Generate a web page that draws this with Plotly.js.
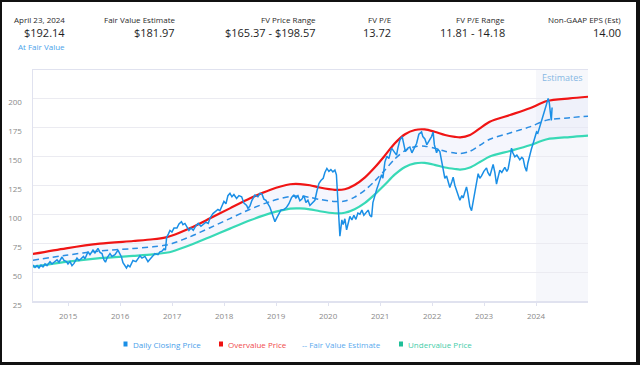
<!DOCTYPE html>
<html><head><meta charset="utf-8">
<script src="https://cdn.plot.ly/plotly-3.0.1.min.js"></script>
<style>
html,body{margin:0;padding:0;background:#fff;}
#wrap{position:relative;width:640px;height:365px;overflow:hidden;}
#chart{width:640px;height:365px;}
#frame{position:absolute;left:0;top:0;width:640px;height:365px;box-sizing:border-box;border-style:solid;border-color:#111;border-width:2px 4px 3px 2px;pointer-events:none;}
</style></head><body>
<div id="wrap"><div id="chart"></div><div id="frame"></div></div>
<script>
// ---------- DATA ----------
const bandYears = [2014.32, 2014.96, 2015.61, 2016.25, 2016.63, 2016.88, 2017.0, 2017.35, 2017.73, 2018.11, 2018.5, 2018.88, 2019.27, 2019.46, 2019.65, 2019.84, 2020.13, 2020.32, 2020.51, 2020.71, 2020.9, 2021.09, 2021.28, 2021.48, 2021.67, 2021.86, 2022.05, 2022.25, 2022.44, 2022.54, 2022.73, 2022.92, 2023.11, 2023.5, 2023.88, 2024.21, 2024.65, 2025.0];
const overvaluePrice = [65.6, 70.5, 74.5, 76.8, 78.3, 80.0, 81.5, 88.0, 96.4, 105.0, 113.7, 120.9, 125.8, 126.0, 125.0, 123.0, 121.0, 121.5, 125.2, 131.8, 140.5, 150.5, 161.0, 169.0, 172.7, 173.2, 171.2, 168.4, 166.8, 166.3, 168.4, 174.1, 179.8, 185.6, 191.4, 197.7, 200.0, 201.4];
const fairValueEstimate = [60.2, 64.5, 68.2, 70.3, 71.8, 73.3, 74.6, 80.6, 88.3, 96.2, 104.2, 110.8, 115.3, 115.5, 114.5, 112.7, 110.9, 111.3, 114.7, 120.8, 128.7, 137.9, 147.5, 154.9, 158.3, 158.7, 156.9, 154.3, 152.8, 152.4, 154.3, 159.5, 164.7, 170.1, 175.4, 181.2, 183.3, 184.6];
const undervaluePrice = [54.6, 58.8, 62.0, 64.0, 65.3, 66.7, 67.8, 73.3, 80.3, 87.5, 94.7, 100.7, 104.8, 105.0, 104.2, 102.5, 100.8, 101.2, 104.3, 109.8, 117.1, 125.4, 134.1, 140.8, 143.9, 144.3, 142.6, 140.3, 139.0, 138.5, 140.3, 145.0, 149.8, 154.6, 159.5, 164.7, 166.6, 167.8];

const priceYears = [2014.323,2014.362,2014.400,2014.438,2014.477,2014.515,2014.554,2014.592,2014.650,2014.688,2014.727,2014.785,2014.823,2014.881,2014.919,2014.967,2014.996,2015.035,2015.073,2015.112,2015.169,2015.208,2015.246,2015.294,2015.323,2015.381,2015.419,2015.477,2015.515,2015.573,2015.612,2015.650,2015.688,2015.717,2015.746,2015.804,2015.842,2015.900,2015.958,2015.996,2016.025,2016.054,2016.092,2016.121,2016.150,2016.188,2016.246,2016.304,2016.381,2016.419,2016.477,2016.535,2016.573,2016.631,2016.669,2016.727,2016.765,2016.804,2016.842,2016.871,2016.894,2016.929,2016.958,2016.996,2017.035,2017.092,2017.131,2017.179,2017.208,2017.246,2017.279,2017.323,2017.362,2017.406,2017.458,2017.502,2017.554,2017.598,2017.650,2017.694,2017.727,2017.785,2017.823,2017.881,2017.919,2017.958,2017.996,2018.035,2018.073,2018.112,2018.150,2018.188,2018.240,2018.285,2018.337,2018.381,2018.433,2018.458,2018.496,2018.535,2018.592,2018.650,2018.688,2018.727,2018.765,2018.804,2018.842,2018.881,2018.919,2018.948,2018.977,2019.015,2019.054,2019.092,2019.150,2019.202,2019.246,2019.298,2019.342,2019.381,2019.419,2019.458,2019.496,2019.535,2019.573,2019.612,2019.650,2019.688,2019.746,2019.785,2019.823,2019.862,2019.906,2019.938,2019.977,2020.015,2020.054,2020.092,2020.131,2020.160,2020.179,2020.198,2020.217,2020.227,2020.246,2020.265,2020.290,2020.323,2020.356,2020.381,2020.419,2020.458,2020.496,2020.535,2020.573,2020.612,2020.650,2020.688,2020.727,2020.771,2020.804,2020.837,2020.862,2020.900,2020.933,2020.977,2021.029,2021.054,2021.092,2021.131,2021.169,2021.221,2021.265,2021.317,2021.342,2021.381,2021.425,2021.458,2021.487,2021.535,2021.573,2021.612,2021.650,2021.702,2021.746,2021.798,2021.823,2021.862,2021.900,2021.938,2021.990,2022.021,2022.044,2022.087,2022.112,2022.150,2022.188,2022.213,2022.246,2022.279,2022.313,2022.342,2022.381,2022.406,2022.438,2022.471,2022.496,2022.535,2022.573,2022.598,2022.631,2022.663,2022.688,2022.708,2022.727,2022.760,2022.785,2022.813,2022.842,2022.887,2022.919,2022.952,2022.996,2023.048,2023.073,2023.112,2023.150,2023.175,2023.208,2023.240,2023.265,2023.304,2023.342,2023.400,2023.438,2023.463,2023.496,2023.529,2023.554,2023.592,2023.631,2023.688,2023.727,2023.752,2023.785,2023.817,2023.842,2023.881,2023.910,2023.944,2023.977,2024.010,2024.035,2024.073,2024.112,2024.137,2024.169,2024.202,2024.233,2024.256,2024.275,2024.294,2024.309];
const dailyClosingPrice = [56,54,55.5,53.5,56,54.5,57,55.5,59,57,58.5,60.5,58.5,63,60,59,57,59,55.5,57.5,62,60,61.5,63.5,61.5,67.5,65,69,66.5,70.5,67,66,60.5,58.5,62,66,63.5,65,69,66,63,58,55.5,53.5,56,54.5,60,59,64,62,63.5,59,61,64.5,66,65,67.5,68,70,69,80,83,86,84.5,88,88,91.5,93.5,91,92,89,86,88,86,90,92,89.5,91.5,93,92,96.5,100.5,102,104,103,108,111,109,116,118,115,117,113.5,116,115,109.5,107.5,105,107,112,116.5,115,118,117.5,113,112,109,106,101,98,93.5,97,101,103.5,104,106,109,114.5,116.5,114,116,111.5,113,116,110,112,107.5,109,112,120,126.5,129,131,136,139.5,137,138.5,136.5,138,134,118,100,86,81,88,95,91,96,86.5,92,98,95,99,95.5,101,100,103.5,99,101.5,103.5,99,97.5,110,117,121,127,134,131,145,150,148,157,154,151,157,164,167,160,154,157,158,153,157,161,169,171,167,165,160,163,167,171,160,153,156,154,144,138,131,133,127,123,128,132,125,121,117,112,116,114,119,123.5,118,110,106.5,103,110,118,125,135,131,133,137,140,136,133,139,143,136,126,131,138,136,140.5,137,139,147,157,153,149.5,151,147,149,148,141,137,144,152,156,161,167,171,170,175.5,180,184,189,195,200,196,188,181,192.14];

const estimatesStart = 2024.0;
const estimatesEnd = 2025.0;
const yearTicks = [2015, 2016, 2017, 2018, 2019, 2020, 2021, 2022, 2023, 2024];
const yearLabels = ['2015','2016','2017','2018','2019','2020','2021','2022','2023','2024'];
const priceTicks = [25, 50, 75, 100, 125, 150, 175, 200];
const priceTickLabels = ['25','50','75','100','125','150','175','200'];

const headerLabels = ['April 23, 2024', 'Fair Value Estimate', 'FV Price Range', 'FV P/E', 'FV P/E Range', 'Non-GAAP EPS (Est)'];
const headerValues = ['$192.14', '$181.97', '$165.37 - $198.57', '13.72', '11.81 - 14.18', '14.00'];
const valuationStatus = 'At Fair Value';
const seriesNames = ['Daily Closing Price', 'Overvalue Price', 'Fair Value Estimate', 'Undervalue Price'];

// ---------- STYLE / LAYOUT ----------
const FONT = '"Open Sans", "DejaVu Sans", sans-serif';
const PL = 33, PR = 588, PT = 70, PB = 301;
const px2x = p => (p - PL) / (PR - PL);
const py2y = p => (PB - p) / (PB - PT);

const cRed = '#f01515', cGreen = '#38d9b6', cBlue = '#1a8fe6', cDash = '#2b8de3';

const traces = [
  {x: bandYears, y: undervaluePrice, type: 'scatter', mode: 'lines', name: seriesNames[3],
   line: {color: cGreen, width: 2.2, shape: 'spline', smoothing: 0.8}, hoverinfo: 'skip'},
  {x: bandYears, y: overvaluePrice, type: 'scatter', mode: 'lines', name: seriesNames[1],
   fill: 'tonexty', fillcolor: 'rgba(225,229,248,0.35)',
   line: {color: cRed, width: 2.2, shape: 'spline', smoothing: 0.8}, hoverinfo: 'skip'},
  {x: bandYears, y: fairValueEstimate, type: 'scatter', mode: 'lines', name: seriesNames[2],
   line: {color: cDash, width: 1.5, dash: '6px,4px', shape: 'spline', smoothing: 0.8}, hoverinfo: 'skip'},
  {x: priceYears, y: dailyClosingPrice, type: 'scatter', mode: 'lines', name: seriesNames[0],
   line: {color: cBlue, width: 1.5}, hoverinfo: 'skip'}
];

const annotations = [];
const colRight = [67, 177, 318, 393, 507, 623];
headerLabels.forEach((t, i) => {
  annotations.push({xref: 'paper', yref: 'paper', x: px2x(colRight[i]), y: py2y(19), xanchor: 'right', yanchor: 'middle',
    text: t, showarrow: false, font: {family: FONT, size: 8, color: '#2a2a2a'}});
  annotations.push({xref: 'paper', yref: 'paper', x: px2x(colRight[i]), y: py2y(33), xanchor: 'right', yanchor: 'middle',
    text: headerValues[i], showarrow: false, font: {family: FONT, size: 11, color: '#1e1e1e'}});
});
annotations.push({xref: 'paper', yref: 'paper', x: px2x(67), y: py2y(46.5), xanchor: 'right', yanchor: 'middle',
  text: valuationStatus, showarrow: false, font: {family: FONT, size: 8, color: '#4aa3ea'}});
annotations.push({xref: 'paper', yref: 'paper', x: px2x(562), y: py2y(77), xanchor: 'center', yanchor: 'middle',
  text: 'Estimates', showarrow: false, font: {family: FONT, size: 9, color: '#86b8e3'}});

// legend (custom, bottom)
const legY = 344;
const legendItems = [
  {sq: 125.5, tx: 131, text: seriesNames[0], sqColor: '#1a8fe6', txColor: '#4aa0ea'},
  {sq: 221, tx: 225.5, text: seriesNames[1], sqColor: '#ee1111', txColor: '#f04a4a'},
  {sq: null, tx: 299.5, text: '-- ' + seriesNames[2], sqColor: null, txColor: '#5aaaee'},
  {sq: 401, tx: 406, text: seriesNames[3], sqColor: '#1fbf98', txColor: '#45cda9'}
];
const shapes = [
  {type: 'rect', xref: 'x', yref: 'paper', x0: estimatesStart, x1: estimatesEnd, y0: 0, y1: 1,
   fillcolor: '#f6f7fb', line: {width: 0}, layer: 'below'}
];
legendItems.forEach(it => {
  annotations.push({xref: 'paper', yref: 'paper', x: px2x(it.tx), y: py2y(legY), xanchor: 'left', yanchor: 'middle',
    text: it.text, showarrow: false, font: {family: FONT, size: 8, color: it.txColor}});
  if (it.sq !== null) {
    shapes.push({type: 'rect', xref: 'paper', yref: 'paper', x0: px2x(it.sq - 2), x1: px2x(it.sq + 2),
      y0: py2y(legY + 2.5), y1: py2y(legY - 2.5), fillcolor: it.sqColor, line: {width: 0}});
  }
});

const layout = {
  width: 640, height: 365,
  margin: {l: PL, r: 640 - PR, t: PT, b: 365 - PB, pad: 0},
  paper_bgcolor: '#ffffff', plot_bgcolor: '#ffffff',
  showlegend: false,
  font: {family: FONT},
  xaxis: {type: 'linear', range: [2014.323, 2025.0], tickmode: 'array', tickvals: yearTicks, ticktext: yearLabels,
    showgrid: false, zeroline: false, showline: true, mirror: true, linecolor: '#e0e2ef', linewidth: 1.5,
    ticks: 'outside', ticklen: 3, tickcolor: '#e0e2ef', tickfont: {family: FONT, size: 8, color: '#8a8a8a'},
    ticklabelstandoff: 4, automargin: false, fixedrange: true},
  yaxis: {range: [25, 224.5], tickmode: 'array', tickvals: priceTicks, ticktext: priceTickLabels,
    showgrid: true, gridcolor: '#ebebf1', gridwidth: 1, zeroline: false, showline: true, linecolor: '#e0e2ef', linewidth: 1.5,
    ticks: '', tickfont: {family: FONT, size: 8, color: '#8a8a8a'}, ticklabelshift: 4, ticklabelstandoff: 8,
    automargin: false, fixedrange: true},
  annotations: annotations,
  shapes: shapes
};

Plotly.newPlot('chart', traces, layout, {displayModeBar: false, staticPlot: true});
</script></body></html>
